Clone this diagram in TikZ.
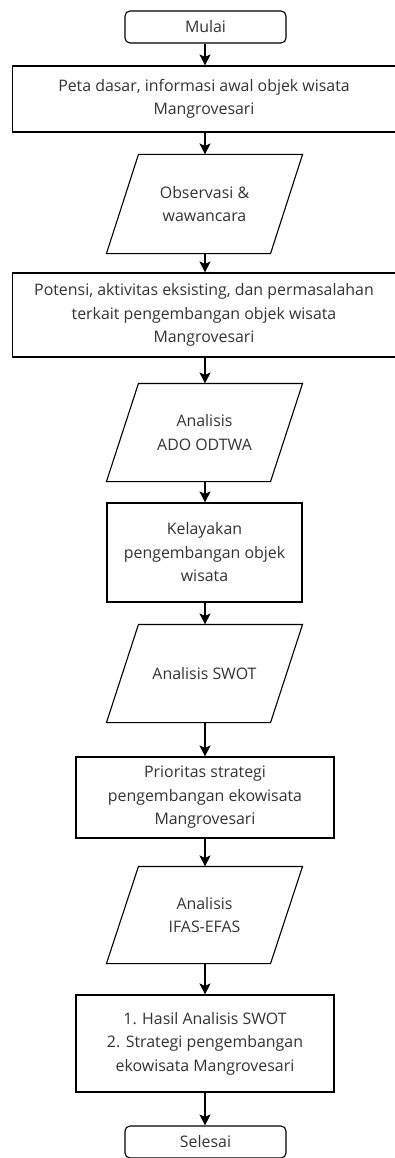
\documentclass[tikz,border=0pt]{standalone}
\usepackage{fontspec}
\setmainfont{Open Sans}
\usetikzlibrary{arrows.meta}
\begin{document}
\begin{tikzpicture}[x=1pt,y=-1pt,
  every node/.style={font=\fontsize{15.9pt}{23.5pt}\selectfont, text=black!80, align=center, inner sep=0pt, line width=1.1pt},
  term/.style={draw, rounded corners=5pt, minimum width=161pt, minimum height=32pt},
  proc/.style={draw, minimum width=#1, minimum height=80pt},
  wide/.style={draw, anchor=west, minimum width=400pt},
  io/.style={minimum width=163pt, minimum height=97pt},
  conn/.style={line width=1.1pt, -{Stealth[length=11pt,width=11pt,inset=2.5pt]}}]
\useasboundingbox (0,0) rectangle (395,1158);
\clip (0,0) rectangle (395,1158);
\coordinate (axis) at (205,0);
\node[term] (mulai) at (205.5,27) {Mulai};
\node[wide, minimum height=66pt] (b1) at (12,99) {};
\node (b1t) at (204,99) {Peta dasar, informasi awal objek wisata\\Mangrovesari};
\node[io, minimum height=98pt] (p1) at (204.5,204) {Observasi \&\\wawancara};
\node[wide, minimum height=84pt] (b2) at (12,315) {};
\node (b2t) at (204,315) {Potensi, aktivitas eksisting, dan permasalahan\\terkait pengembangan objek wisata\\Mangrovesari};
\node[io] (p2) at (204.5,432.5) {Analisis\\ADO ODTWA};
\node[proc=195pt, minimum height=99pt] (b3) at (204.5,552.5) {Kelayakan\\pengembangan objek\\wisata};
\node[io] (p3) at (204.5,673.5) {Analisis SWOT};
\node[proc=258pt, minimum height=81pt] (b4) at (205,797.5) {Prioritas strategi\\pengembangan ekowisata\\Mangrovesari};
\node[io, minimum height=96pt] (p4) at (204.5,915) {Analisis\\IFAS-EFAS};
\node[proc=258pt, minimum height=97pt] (b5) at (205,1043.5) {1. Hasil Analisis SWOT\\2. Strategi pengembangan\\ekowisata Mangrovesari};
\node[term] (selesai) at (205.5,1142) {Selesai};
\foreach \p in {p1,p2,p3,p4}{
  \draw[line width=1.1pt] ([xshift=16pt]\p.north west) -- ([xshift=16pt]\p.north east)
    -- ([xshift=-16pt]\p.south east) -- ([xshift=-16pt]\p.south west) -- cycle;
}
\draw[conn] (mulai.south -| axis) -- (b1.north -| axis);
\draw[conn] (b1.south -| axis) -- (p1.north -| axis);
\draw[conn] (p1.south -| axis) -- (b2.north -| axis);
\draw[conn] (b2.south -| axis) -- (p2.north -| axis);
\draw[conn] (p2.south -| axis) -- (b3.north -| axis);
\draw[conn] (b3.south -| axis) -- (p3.north -| axis);
\draw[conn] (p3.south -| axis) -- (b4.north -| axis);
\draw[conn] (b4.south -| axis) -- (p4.north -| axis);
\draw[conn] (p4.south -| axis) -- (b5.north -| axis);
\draw[conn] (b5.south -| axis) -- (selesai.north -| axis);
\end{tikzpicture}
\end{document}
